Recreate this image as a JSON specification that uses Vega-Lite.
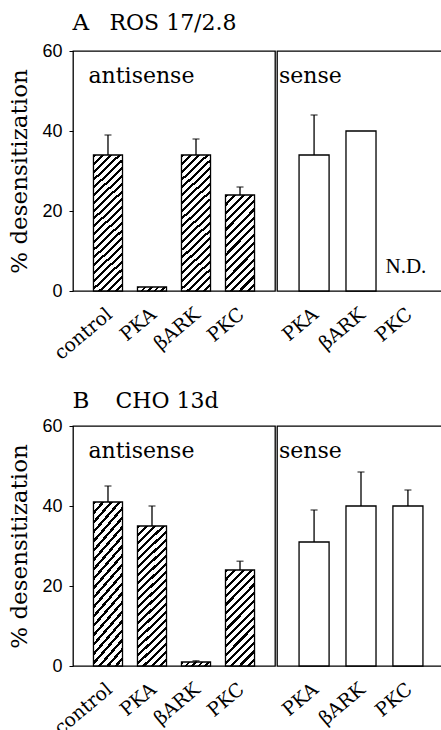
{
"$schema":"https://vega.github.io/schema/vega-lite/v6.json",
"padding":{"left":8,"top":11,"right":0,"bottom":0},
"config":{"view":{"stroke":"black","strokeWidth":1.3},"font":"DejaVu Serif","axis":{"grid":false,"domain":false,"labelColor":"black","titleColor":"black","tickColor":"black"}},
"datasets":{"bars":[
{"panel":"A","grp":"antisense","k":"control","v":34,"err":39},
{"panel":"A","grp":"antisense","k":"PKA","v":1,"err":null},
{"panel":"A","grp":"antisense","k":"βARK","v":34,"err":38},
{"panel":"A","grp":"antisense","k":"PKC","v":24,"err":26},
{"panel":"A","grp":"sense","k":"PKA","v":34,"err":44},
{"panel":"A","grp":"sense","k":"βARK","v":40,"err":null},
{"panel":"A","grp":"sense","k":"PKC","v":null,"err":null,"note":"N.D."},
{"panel":"B","grp":"antisense","k":"control","v":41,"err":45},
{"panel":"B","grp":"antisense","k":"PKA","v":35,"err":40},
{"panel":"B","grp":"antisense","k":"βARK","v":1,"err":1.3},
{"panel":"B","grp":"antisense","k":"PKC","v":24,"err":26.2},
{"panel":"B","grp":"sense","k":"PKA","v":31,"err":39},
{"panel":"B","grp":"sense","k":"βARK","v":40,"err":48.5},
{"panel":"B","grp":"sense","k":"PKC","v":40,"err":44}
],
"heads":[
{"panel":"A","k":"control","letter":"A","label":"ROS 17/2.8"},
{"panel":"B","k":"control","letter":"B","label":"CHO 13d"}
]},
"spacing":25,
"vconcat":[
{"hconcat":[
{"width":202,"height":240,
"data":{"name":"bars"},
"transform":[{"filter":"datum.panel=='A' && datum.grp=='antisense'"}],
"layer":[
{"mark":{"type":"bar","stroke":"black","strokeWidth":1.3},
"encoding":{
"x":{"field":"k","type":"nominal","scale":{"domain":["control","PKA","βARK","PKC"],"paddingInner":0.34,"paddingOuter":0.465},"axis":{"title":null,"labelAngle":-40,"labelFont":"DejaVu Serif","labelFontSize":19,"ticks":false,"labelPadding":28,"labelOffset":8,"labelAlign":"right","labelBaseline":"bottom"}},
"y":{"field":"v","type":"quantitative","scale":{"domain":[0,60]},"axis":{"values":[0,20,40,60],"title":"% desensitization","titleFont":"DejaVu Serif","titleFontSize":23,"titleFontWeight":"normal","titlePadding":10,"labelFont":"Liberation Sans","labelFontSize":18,"tickSize":4,"labelPadding":7}},
"fill":{"condition":[
{"test":"datum.v > 30","value":{"gradient":"linear","x1":0,"y1":0,"x2":0.2342,"y2":1.1553,"stops":[
{"offset":0,"color":"black"},{"offset":0.0181,"color":"black"},{"offset":0.0181,"color":"white"},{"offset":0.04762,"color":"white"},
{"offset":0.04762,"color":"black"},{"offset":0.06571,"color":"black"},{"offset":0.06571,"color":"white"},{"offset":0.09524,"color":"white"},
{"offset":0.09524,"color":"black"},{"offset":0.11333,"color":"black"},{"offset":0.11333,"color":"white"},{"offset":0.14286,"color":"white"},
{"offset":0.14286,"color":"black"},{"offset":0.16095,"color":"black"},{"offset":0.16095,"color":"white"},{"offset":0.19048,"color":"white"},
{"offset":0.19048,"color":"black"},{"offset":0.20857,"color":"black"},{"offset":0.20857,"color":"white"},{"offset":0.2381,"color":"white"},
{"offset":0.2381,"color":"black"},{"offset":0.25619,"color":"black"},{"offset":0.25619,"color":"white"},{"offset":0.28571,"color":"white"},
{"offset":0.28571,"color":"black"},{"offset":0.30381,"color":"black"},{"offset":0.30381,"color":"white"},{"offset":0.33333,"color":"white"},
{"offset":0.33333,"color":"black"},{"offset":0.35143,"color":"black"},{"offset":0.35143,"color":"white"},{"offset":0.38095,"color":"white"},
{"offset":0.38095,"color":"black"},{"offset":0.39905,"color":"black"},{"offset":0.39905,"color":"white"},{"offset":0.42857,"color":"white"},
{"offset":0.42857,"color":"black"},{"offset":0.44667,"color":"black"},{"offset":0.44667,"color":"white"},{"offset":0.47619,"color":"white"},
{"offset":0.47619,"color":"black"},{"offset":0.49429,"color":"black"},{"offset":0.49429,"color":"white"},{"offset":0.52381,"color":"white"},
{"offset":0.52381,"color":"black"},{"offset":0.5419,"color":"black"},{"offset":0.5419,"color":"white"},{"offset":0.57143,"color":"white"},
{"offset":0.57143,"color":"black"},{"offset":0.58952,"color":"black"},{"offset":0.58952,"color":"white"},{"offset":0.61905,"color":"white"},
{"offset":0.61905,"color":"black"},{"offset":0.63714,"color":"black"},{"offset":0.63714,"color":"white"},{"offset":0.66667,"color":"white"},
{"offset":0.66667,"color":"black"},{"offset":0.68476,"color":"black"},{"offset":0.68476,"color":"white"},{"offset":0.71429,"color":"white"},
{"offset":0.71429,"color":"black"},{"offset":0.73238,"color":"black"},{"offset":0.73238,"color":"white"},{"offset":0.7619,"color":"white"},
{"offset":0.7619,"color":"black"},{"offset":0.78,"color":"black"},{"offset":0.78,"color":"white"},{"offset":0.80952,"color":"white"},
{"offset":0.80952,"color":"black"},{"offset":0.82762,"color":"black"},{"offset":0.82762,"color":"white"},{"offset":0.85714,"color":"white"},
{"offset":0.85714,"color":"black"},{"offset":0.87524,"color":"black"},{"offset":0.87524,"color":"white"},{"offset":0.90476,"color":"white"},
{"offset":0.90476,"color":"black"},{"offset":0.92286,"color":"black"},{"offset":0.92286,"color":"white"},{"offset":0.95238,"color":"white"},
{"offset":0.95238,"color":"black"},{"offset":0.97048,"color":"black"},{"offset":0.97048,"color":"white"},{"offset":1,"color":"white"}]}},
{"test":"datum.v > 10","value":{"gradient":"linear","x1":0,"y1":0,"x2":0.3658,"y2":1.1943,"stops":[
{"offset":0,"color":"black"},{"offset":0.02533,"color":"black"},{"offset":0.02533,"color":"white"},{"offset":0.06667,"color":"white"},
{"offset":0.06667,"color":"black"},{"offset":0.092,"color":"black"},{"offset":0.092,"color":"white"},{"offset":0.13333,"color":"white"},
{"offset":0.13333,"color":"black"},{"offset":0.15867,"color":"black"},{"offset":0.15867,"color":"white"},{"offset":0.2,"color":"white"},
{"offset":0.2,"color":"black"},{"offset":0.22533,"color":"black"},{"offset":0.22533,"color":"white"},{"offset":0.26667,"color":"white"},
{"offset":0.26667,"color":"black"},{"offset":0.292,"color":"black"},{"offset":0.292,"color":"white"},{"offset":0.33333,"color":"white"},
{"offset":0.33333,"color":"black"},{"offset":0.35867,"color":"black"},{"offset":0.35867,"color":"white"},{"offset":0.4,"color":"white"},
{"offset":0.4,"color":"black"},{"offset":0.42533,"color":"black"},{"offset":0.42533,"color":"white"},{"offset":0.46667,"color":"white"},
{"offset":0.46667,"color":"black"},{"offset":0.492,"color":"black"},{"offset":0.492,"color":"white"},{"offset":0.53333,"color":"white"},
{"offset":0.53333,"color":"black"},{"offset":0.55867,"color":"black"},{"offset":0.55867,"color":"white"},{"offset":0.6,"color":"white"},
{"offset":0.6,"color":"black"},{"offset":0.62533,"color":"black"},{"offset":0.62533,"color":"white"},{"offset":0.66667,"color":"white"},
{"offset":0.66667,"color":"black"},{"offset":0.692,"color":"black"},{"offset":0.692,"color":"white"},{"offset":0.73333,"color":"white"},
{"offset":0.73333,"color":"black"},{"offset":0.75867,"color":"black"},{"offset":0.75867,"color":"white"},{"offset":0.8,"color":"white"},
{"offset":0.8,"color":"black"},{"offset":0.82533,"color":"black"},{"offset":0.82533,"color":"white"},{"offset":0.86667,"color":"white"},
{"offset":0.86667,"color":"black"},{"offset":0.892,"color":"black"},{"offset":0.892,"color":"white"},{"offset":0.93333,"color":"white"},
{"offset":0.93333,"color":"black"},{"offset":0.95867,"color":"black"},{"offset":0.95867,"color":"white"},{"offset":1,"color":"white"}]}}],
"value":{"gradient":"linear","x1":0,"y1":0,"x2":1.1159,"y2":0.1518,"stops":[
{"offset":0,"color":"black"},{"offset":0.076,"color":"black"},{"offset":0.076,"color":"white"},{"offset":0.2,"color":"white"},
{"offset":0.2,"color":"black"},{"offset":0.276,"color":"black"},{"offset":0.276,"color":"white"},{"offset":0.4,"color":"white"},
{"offset":0.4,"color":"black"},{"offset":0.476,"color":"black"},{"offset":0.476,"color":"white"},{"offset":0.6,"color":"white"},
{"offset":0.6,"color":"black"},{"offset":0.676,"color":"black"},{"offset":0.676,"color":"white"},{"offset":0.8,"color":"white"},
{"offset":0.8,"color":"black"},{"offset":0.876,"color":"black"},{"offset":0.876,"color":"white"},{"offset":1,"color":"white"}]}}
}},
{"mark":{"type":"rule","color":"black","strokeWidth":1.3},"transform":[{"filter":"datum.err != null"}],
"encoding":{"x":{"field":"k","type":"nominal"},"y":{"field":"v","type":"quantitative"},"y2":{"field":"err"}}},
{"mark":{"type":"tick","color":"black","thickness":1.3,"size":7},"transform":[{"filter":"datum.err != null"}],
"encoding":{"x":{"field":"k","type":"nominal"},"y":{"field":"err","type":"quantitative"}}},
{"data":{"values":[{"k":"control","label":"antisense"}]},
"mark":{"type":"text","align":"left","baseline":"alphabetic","font":"DejaVu Serif","fontSize":22,"dx":-5,"color":"black"},
"encoding":{"x":{"field":"k","type":"nominal","bandPosition":0},"y":{"datum":52},"text":{"field":"label"}}},
{"data":{"name":"heads"},"transform":[{"filter":"datum.panel=='A'"}],
"mark":{"type":"text","align":"left","baseline":"alphabetic","font":"DejaVu Serif","fontSize":23,"dx":-21,"color":"black"},
"encoding":{"x":{"field":"k","type":"nominal","bandPosition":0},"y":{"datum":65.3},"text":{"field":"letter"}}},
{"data":{"name":"heads"},"transform":[{"filter":"datum.panel=='A'"}],
"mark":{"type":"text","align":"left","baseline":"alphabetic","font":"DejaVu Serif","fontSize":22,"dx":16,"color":"black"},
"encoding":{"x":{"field":"k","type":"nominal","bandPosition":0},"y":{"datum":65.3},"text":{"field":"label"}}}
]},
{"width":168,"height":240,
"data":{"name":"bars"},
"transform":[{"filter":"datum.panel=='A' && datum.grp=='sense'"}],
"layer":[
{"mark":{"type":"bar","stroke":"black","strokeWidth":1.3,"fill":"white"},
"encoding":{
"x":{"field":"k","type":"nominal","scale":{"domain":["PKA","βARK","PKC"],"paddingInner":0.36,"paddingOuter":0.47},"axis":{"title":null,"labelAngle":-40,"labelFont":"DejaVu Serif","labelFontSize":19,"ticks":false,"labelPadding":28,"labelOffset":8,"labelAlign":"right","labelBaseline":"bottom"}},
"y":{"field":"v","type":"quantitative","scale":{"domain":[0,60]},"axis":null}}},
{"mark":{"type":"rule","color":"black","strokeWidth":1.3},"transform":[{"filter":"datum.err != null"}],
"encoding":{"x":{"field":"k","type":"nominal"},"y":{"field":"v","type":"quantitative"},"y2":{"field":"err"}}},
{"mark":{"type":"tick","color":"black","thickness":1.3,"size":7},"transform":[{"filter":"datum.err != null"}],
"encoding":{"x":{"field":"k","type":"nominal"},"y":{"field":"err","type":"quantitative"}}},
{"mark":{"type":"text","align":"center","baseline":"alphabetic","font":"Liberation Serif","fontSize":21,"dx":-2,"color":"black"},"transform":[{"filter":"datum.note != null"}],
"encoding":{"x":{"field":"k","type":"nominal"},"y":{"datum":4.4},"text":{"field":"note"}}},
{"data":{"values":[{"k":"PKA","label":"sense"}]},
"mark":{"type":"text","align":"left","baseline":"alphabetic","font":"DejaVu Serif","fontSize":22,"dx":-20,"color":"black"},
"encoding":{"x":{"field":"k","type":"nominal","bandPosition":0},"y":{"datum":52},"text":{"field":"label"}}}
]}
],"spacing":0},
{"hconcat":[
{"width":202,"height":240,
"data":{"name":"bars"},
"transform":[{"filter":"datum.panel=='B' && datum.grp=='antisense'"}],
"layer":[
{"mark":{"type":"bar","stroke":"black","strokeWidth":1.3},
"encoding":{
"x":{"field":"k","type":"nominal","scale":{"domain":["control","PKA","βARK","PKC"],"paddingInner":0.34,"paddingOuter":0.465},"axis":{"title":null,"labelAngle":-40,"labelFont":"DejaVu Serif","labelFontSize":19,"ticks":false,"labelPadding":28,"labelOffset":8,"labelAlign":"right","labelBaseline":"bottom"}},
"y":{"field":"v","type":"quantitative","scale":{"domain":[0,60]},"axis":{"values":[0,20,40,60],"title":"% desensitization","titleFont":"DejaVu Serif","titleFontSize":23,"titleFontWeight":"normal","titlePadding":10,"labelFont":"Liberation Sans","labelFontSize":18,"tickSize":4,"labelPadding":7}},
"fill":{"condition":[
{"test":"datum.v > 30","value":{"gradient":"linear","x1":0,"y1":0,"x2":0.2342,"y2":1.1553,"stops":[
{"offset":0,"color":"black"},{"offset":0.0181,"color":"black"},{"offset":0.0181,"color":"white"},{"offset":0.04762,"color":"white"},
{"offset":0.04762,"color":"black"},{"offset":0.06571,"color":"black"},{"offset":0.06571,"color":"white"},{"offset":0.09524,"color":"white"},
{"offset":0.09524,"color":"black"},{"offset":0.11333,"color":"black"},{"offset":0.11333,"color":"white"},{"offset":0.14286,"color":"white"},
{"offset":0.14286,"color":"black"},{"offset":0.16095,"color":"black"},{"offset":0.16095,"color":"white"},{"offset":0.19048,"color":"white"},
{"offset":0.19048,"color":"black"},{"offset":0.20857,"color":"black"},{"offset":0.20857,"color":"white"},{"offset":0.2381,"color":"white"},
{"offset":0.2381,"color":"black"},{"offset":0.25619,"color":"black"},{"offset":0.25619,"color":"white"},{"offset":0.28571,"color":"white"},
{"offset":0.28571,"color":"black"},{"offset":0.30381,"color":"black"},{"offset":0.30381,"color":"white"},{"offset":0.33333,"color":"white"},
{"offset":0.33333,"color":"black"},{"offset":0.35143,"color":"black"},{"offset":0.35143,"color":"white"},{"offset":0.38095,"color":"white"},
{"offset":0.38095,"color":"black"},{"offset":0.39905,"color":"black"},{"offset":0.39905,"color":"white"},{"offset":0.42857,"color":"white"},
{"offset":0.42857,"color":"black"},{"offset":0.44667,"color":"black"},{"offset":0.44667,"color":"white"},{"offset":0.47619,"color":"white"},
{"offset":0.47619,"color":"black"},{"offset":0.49429,"color":"black"},{"offset":0.49429,"color":"white"},{"offset":0.52381,"color":"white"},
{"offset":0.52381,"color":"black"},{"offset":0.5419,"color":"black"},{"offset":0.5419,"color":"white"},{"offset":0.57143,"color":"white"},
{"offset":0.57143,"color":"black"},{"offset":0.58952,"color":"black"},{"offset":0.58952,"color":"white"},{"offset":0.61905,"color":"white"},
{"offset":0.61905,"color":"black"},{"offset":0.63714,"color":"black"},{"offset":0.63714,"color":"white"},{"offset":0.66667,"color":"white"},
{"offset":0.66667,"color":"black"},{"offset":0.68476,"color":"black"},{"offset":0.68476,"color":"white"},{"offset":0.71429,"color":"white"},
{"offset":0.71429,"color":"black"},{"offset":0.73238,"color":"black"},{"offset":0.73238,"color":"white"},{"offset":0.7619,"color":"white"},
{"offset":0.7619,"color":"black"},{"offset":0.78,"color":"black"},{"offset":0.78,"color":"white"},{"offset":0.80952,"color":"white"},
{"offset":0.80952,"color":"black"},{"offset":0.82762,"color":"black"},{"offset":0.82762,"color":"white"},{"offset":0.85714,"color":"white"},
{"offset":0.85714,"color":"black"},{"offset":0.87524,"color":"black"},{"offset":0.87524,"color":"white"},{"offset":0.90476,"color":"white"},
{"offset":0.90476,"color":"black"},{"offset":0.92286,"color":"black"},{"offset":0.92286,"color":"white"},{"offset":0.95238,"color":"white"},
{"offset":0.95238,"color":"black"},{"offset":0.97048,"color":"black"},{"offset":0.97048,"color":"white"},{"offset":1,"color":"white"}]}},
{"test":"datum.v > 10","value":{"gradient":"linear","x1":0,"y1":0,"x2":0.3658,"y2":1.1943,"stops":[
{"offset":0,"color":"black"},{"offset":0.02533,"color":"black"},{"offset":0.02533,"color":"white"},{"offset":0.06667,"color":"white"},
{"offset":0.06667,"color":"black"},{"offset":0.092,"color":"black"},{"offset":0.092,"color":"white"},{"offset":0.13333,"color":"white"},
{"offset":0.13333,"color":"black"},{"offset":0.15867,"color":"black"},{"offset":0.15867,"color":"white"},{"offset":0.2,"color":"white"},
{"offset":0.2,"color":"black"},{"offset":0.22533,"color":"black"},{"offset":0.22533,"color":"white"},{"offset":0.26667,"color":"white"},
{"offset":0.26667,"color":"black"},{"offset":0.292,"color":"black"},{"offset":0.292,"color":"white"},{"offset":0.33333,"color":"white"},
{"offset":0.33333,"color":"black"},{"offset":0.35867,"color":"black"},{"offset":0.35867,"color":"white"},{"offset":0.4,"color":"white"},
{"offset":0.4,"color":"black"},{"offset":0.42533,"color":"black"},{"offset":0.42533,"color":"white"},{"offset":0.46667,"color":"white"},
{"offset":0.46667,"color":"black"},{"offset":0.492,"color":"black"},{"offset":0.492,"color":"white"},{"offset":0.53333,"color":"white"},
{"offset":0.53333,"color":"black"},{"offset":0.55867,"color":"black"},{"offset":0.55867,"color":"white"},{"offset":0.6,"color":"white"},
{"offset":0.6,"color":"black"},{"offset":0.62533,"color":"black"},{"offset":0.62533,"color":"white"},{"offset":0.66667,"color":"white"},
{"offset":0.66667,"color":"black"},{"offset":0.692,"color":"black"},{"offset":0.692,"color":"white"},{"offset":0.73333,"color":"white"},
{"offset":0.73333,"color":"black"},{"offset":0.75867,"color":"black"},{"offset":0.75867,"color":"white"},{"offset":0.8,"color":"white"},
{"offset":0.8,"color":"black"},{"offset":0.82533,"color":"black"},{"offset":0.82533,"color":"white"},{"offset":0.86667,"color":"white"},
{"offset":0.86667,"color":"black"},{"offset":0.892,"color":"black"},{"offset":0.892,"color":"white"},{"offset":0.93333,"color":"white"},
{"offset":0.93333,"color":"black"},{"offset":0.95867,"color":"black"},{"offset":0.95867,"color":"white"},{"offset":1,"color":"white"}]}}],
"value":{"gradient":"linear","x1":0,"y1":0,"x2":1.1159,"y2":0.1518,"stops":[
{"offset":0,"color":"black"},{"offset":0.076,"color":"black"},{"offset":0.076,"color":"white"},{"offset":0.2,"color":"white"},
{"offset":0.2,"color":"black"},{"offset":0.276,"color":"black"},{"offset":0.276,"color":"white"},{"offset":0.4,"color":"white"},
{"offset":0.4,"color":"black"},{"offset":0.476,"color":"black"},{"offset":0.476,"color":"white"},{"offset":0.6,"color":"white"},
{"offset":0.6,"color":"black"},{"offset":0.676,"color":"black"},{"offset":0.676,"color":"white"},{"offset":0.8,"color":"white"},
{"offset":0.8,"color":"black"},{"offset":0.876,"color":"black"},{"offset":0.876,"color":"white"},{"offset":1,"color":"white"}]}}
}},
{"mark":{"type":"rule","color":"black","strokeWidth":1.3},"transform":[{"filter":"datum.err != null"}],
"encoding":{"x":{"field":"k","type":"nominal"},"y":{"field":"v","type":"quantitative"},"y2":{"field":"err"}}},
{"mark":{"type":"tick","color":"black","thickness":1.3,"size":7},"transform":[{"filter":"datum.err != null"}],
"encoding":{"x":{"field":"k","type":"nominal"},"y":{"field":"err","type":"quantitative"}}},
{"data":{"values":[{"k":"control","label":"antisense"}]},
"mark":{"type":"text","align":"left","baseline":"alphabetic","font":"DejaVu Serif","fontSize":22,"dx":-5,"color":"black"},
"encoding":{"x":{"field":"k","type":"nominal","bandPosition":0},"y":{"datum":52},"text":{"field":"label"}}},
{"data":{"name":"heads"},"transform":[{"filter":"datum.panel=='B'"}],
"mark":{"type":"text","align":"left","baseline":"alphabetic","font":"DejaVu Serif","fontSize":23,"dx":-21,"color":"black"},
"encoding":{"x":{"field":"k","type":"nominal","bandPosition":0},"y":{"datum":64.5},"text":{"field":"letter"}}},
{"data":{"name":"heads"},"transform":[{"filter":"datum.panel=='B'"}],
"mark":{"type":"text","align":"left","baseline":"alphabetic","font":"DejaVu Serif","fontSize":22,"dx":22,"color":"black"},
"encoding":{"x":{"field":"k","type":"nominal","bandPosition":0},"y":{"datum":64.5},"text":{"field":"label"}}}
]},
{"width":168,"height":240,
"data":{"name":"bars"},
"transform":[{"filter":"datum.panel=='B' && datum.grp=='sense'"}],
"layer":[
{"mark":{"type":"bar","stroke":"black","strokeWidth":1.3,"fill":"white"},
"encoding":{
"x":{"field":"k","type":"nominal","scale":{"domain":["PKA","βARK","PKC"],"paddingInner":0.36,"paddingOuter":0.47},"axis":{"title":null,"labelAngle":-40,"labelFont":"DejaVu Serif","labelFontSize":19,"ticks":false,"labelPadding":28,"labelOffset":8,"labelAlign":"right","labelBaseline":"bottom"}},
"y":{"field":"v","type":"quantitative","scale":{"domain":[0,60]},"axis":null}}},
{"mark":{"type":"rule","color":"black","strokeWidth":1.3},"transform":[{"filter":"datum.err != null"}],
"encoding":{"x":{"field":"k","type":"nominal"},"y":{"field":"v","type":"quantitative"},"y2":{"field":"err"}}},
{"mark":{"type":"tick","color":"black","thickness":1.3,"size":7},"transform":[{"filter":"datum.err != null"}],
"encoding":{"x":{"field":"k","type":"nominal"},"y":{"field":"err","type":"quantitative"}}},
{"data":{"values":[{"k":"PKA","label":"sense"}]},
"mark":{"type":"text","align":"left","baseline":"alphabetic","font":"DejaVu Serif","fontSize":22,"dx":-20,"color":"black"},
"encoding":{"x":{"field":"k","type":"nominal","bandPosition":0},"y":{"datum":52},"text":{"field":"label"}}}
]}
],"spacing":0}
]
}
